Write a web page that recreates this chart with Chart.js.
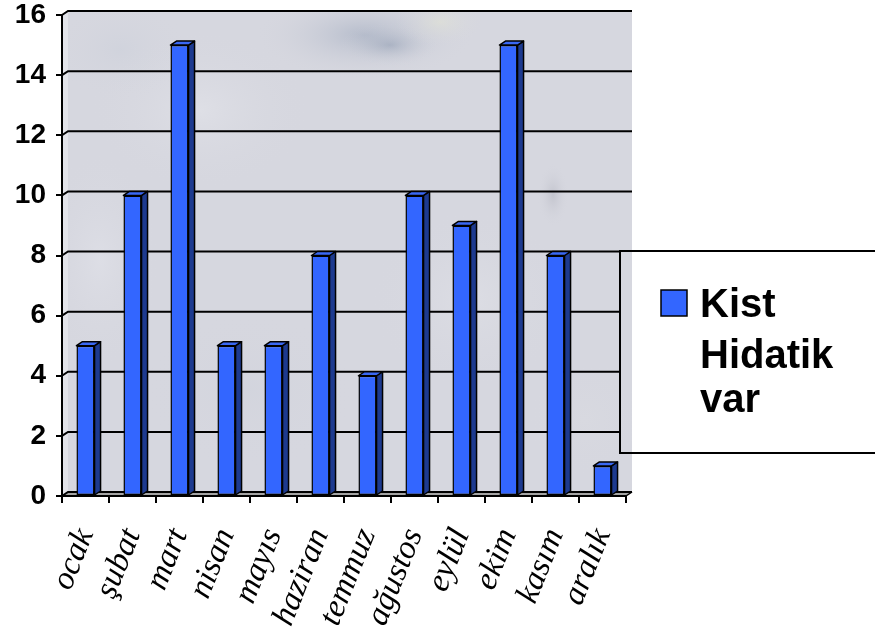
<!DOCTYPE html>
<html>
<head>
<meta charset="utf-8">
<script src="https://cdn.jsdelivr.net/npm/chart.js@4.4.1/dist/chart.umd.min.js"></script>
<style>
  html, body { margin: 0; padding: 0; background: #ffffff; }
  #wrap { width: 875px; height: 632px; }
</style>
</head>
<body>
<div id="wrap"><canvas id="c" width="875" height="632"></canvas></div>
<script>
// Monthly counts
const months = ['ocak', 'şubat', 'mart', 'nisan', 'mayıs', 'haziran', 'temmuz', 'ağustos', 'eylül', 'ekim', 'kasım', 'aralık'];
const kistHidatikVar = [5, 10, 15, 5, 5, 8, 4, 10, 9, 15, 8, 1];
const seriesName = 'Kist Hidatik var';
const legendLines = ['Kist', 'Hidatik', 'var'];
const yTicks = [0, 2, 4, 6, 8, 10, 12, 14, 16];

// depth of the pseudo-3D box
const DX = 6, DY = -4;
const LEGEND = { x: 620, y: 251, h: 202 };

const FRONT = '#3366ff', SIDE = '#1d3a8f', TOP = '#3a68f4';

const wallPlugin = {
  id: 'wall',
  beforeDraw(chart) {
    const ctx = chart.ctx, ca = chart.chartArea, ys = chart.scales.y;
    const L = ca.left, R = ca.right, T = ys.getPixelForValue(16), B = ys.getPixelForValue(0);
    ctx.save();
    ctx.fillStyle = '#ffffff';
    ctx.fillRect(0, 0, chart.width, chart.height);

    // back wall with a soft mottled finish
    ctx.save();
    ctx.beginPath();
    ctx.rect(L + DX, T + DY, R - L, B - T);
    ctx.clip();
    ctx.fillStyle = '#d6d7df';
    ctx.fillRect(L + DX, T + DY, R - L, B - T);
    const blobs = [
      [365, 35, 110, 45, 'rgba(140,154,178,0.45)'],
      [390, 45, 50, 22, 'rgba(120,136,162,0.35)'],
      [440, 22, 45, 25, 'rgba(228,230,212,0.5)'],
      [200, 110, 110, 80, 'rgba(232,233,238,0.45)'],
      [120, 50, 70, 50, 'rgba(198,204,216,0.35)'],
      [553, 195, 16, 32, 'rgba(160,162,174,0.35)'],
      [470, 300, 100, 90, 'rgba(226,227,233,0.5)'],
      [250, 390, 110, 80, 'rgba(206,209,219,0.4)'],
      [100, 260, 60, 110, 'rgba(228,229,236,0.5)'],
      [585, 420, 60, 60, 'rgba(218,219,225,0.5)']
    ];
    for (const [x, y, rx, ry, c] of blobs) {
      ctx.save();
      ctx.translate(x, y);
      ctx.scale(rx / 100, ry / 100);
      const g = ctx.createRadialGradient(0, 0, 0, 0, 0, 100);
      g.addColorStop(0, c);
      g.addColorStop(1, 'rgba(214,215,223,0)');
      ctx.fillStyle = g;
      ctx.fillRect(-100, -100, 200, 200);
      ctx.restore();
    }
    ctx.restore();

    // left side wall
    ctx.fillStyle = '#e3e4ea';
    ctx.beginPath();
    ctx.moveTo(L, T); ctx.lineTo(L + DX, T + DY); ctx.lineTo(L + DX, B + DY); ctx.lineTo(L, B);
    ctx.closePath(); ctx.fill();

    // floor
    ctx.fillStyle = '#a4a4a4';
    ctx.beginPath();
    ctx.moveTo(L, B); ctx.lineTo(L + DX, B + DY); ctx.lineTo(R + DX, B + DY); ctx.lineTo(R, B);
    ctx.closePath(); ctx.fill();

    // gridlines on the wall
    ctx.strokeStyle = '#000000';
    ctx.lineWidth = 2;
    for (const v of yTicks) {
      const yf = ys.getPixelForValue(v), yb = yf + DY;
      const inLegend = yb > LEGEND.y && yb < LEGEND.y + LEGEND.h;
      ctx.beginPath();
      ctx.moveTo(L, yf);
      ctx.lineTo(L + DX, yb);
      ctx.lineTo(inLegend ? LEGEND.x : R + DX, yb);
      ctx.stroke();
    }
    ctx.lineWidth = 1.5;
    ctx.beginPath();
    ctx.moveTo(R, B); ctx.lineTo(R + DX, B + DY);
    ctx.stroke();
    ctx.restore();
  },
  afterDatasetsDraw(chart) {
    const ctx = chart.ctx;
    const meta = chart.getDatasetMeta(0);
    ctx.save();
    ctx.strokeStyle = '#000000';
    ctx.lineWidth = 1.5;
    ctx.lineJoin = 'round';
    for (const bar of meta.data) {
      const p = bar.getProps(['x', 'y', 'base', 'width'], true);
      const l = p.x - p.width / 2, r = p.x + p.width / 2, t = p.y, b = p.base;
      ctx.fillStyle = SIDE;
      ctx.beginPath();
      ctx.moveTo(r, t); ctx.lineTo(r + DX, t + DY); ctx.lineTo(r + DX, b + DY); ctx.lineTo(r, b);
      ctx.closePath(); ctx.fill(); ctx.stroke();
      ctx.fillStyle = TOP;
      ctx.beginPath();
      ctx.moveTo(l, t); ctx.lineTo(l + DX, t + DY); ctx.lineTo(r + DX, t + DY); ctx.lineTo(r, t);
      ctx.closePath(); ctx.fill(); ctx.stroke();
    }
    ctx.restore();
  },
  afterDraw(chart) {
    const ctx = chart.ctx;
    ctx.save();
    // legend frame (open to the right edge)
    ctx.strokeStyle = '#000000';
    ctx.lineWidth = 2;
    ctx.beginPath();
    ctx.moveTo(chart.width + 5, LEGEND.y);
    ctx.lineTo(LEGEND.x, LEGEND.y);
    ctx.lineTo(LEGEND.x, LEGEND.y + LEGEND.h);
    ctx.lineTo(chart.width + 5, LEGEND.y + LEGEND.h);
    ctx.stroke();
    ctx.fillStyle = '#ffffff';
    ctx.fillRect(LEGEND.x + 13, LEGEND.y + 1, chart.width, LEGEND.h - 2);
    // swatch
    ctx.fillStyle = FRONT;
    ctx.fillRect(661, 290, 26, 26);
    ctx.lineWidth = 1.5;
    ctx.strokeRect(661, 290, 26, 26);
    // label
    ctx.fillStyle = '#000000';
    ctx.font = 'bold 40px "Liberation Sans", Arial, sans-serif';
    ctx.textBaseline = 'alphabetic';
    ctx.textAlign = 'left';
    const baselines = [317, 368, 412];
    legendLines.forEach((s, i) => ctx.fillText(s, 700, baselines[i]));
    ctx.restore();
  }
};

new Chart(document.getElementById('c'), {
  type: 'bar',
  data: {
    labels: months,
    datasets: [{
      label: seriesName,
      data: kistHidatikVar,
      backgroundColor: FRONT,
      borderColor: '#000000',
      borderWidth: 1.5,
      borderSkipped: false,
      categoryPercentage: 1,
      barPercentage: 0.385
    }]
  },
  options: {
    responsive: false,
    animation: false,
    events: [],
    layout: { padding: { top: 15, right: 249, left: 0, bottom: 0 } },
    plugins: { legend: { display: false }, tooltip: { enabled: false } },
    scales: {
      y: {
        min: 0, max: 16,
        afterFit(scale) { scale.width = 62; scale.paddingTop = 0; scale.paddingBottom = 0; },
        ticks: {
          stepSize: 2,
          padding: 10,
          color: '#000000',
          font: { family: '"Liberation Sans", Arial, sans-serif', size: 28, weight: 'bold' }
        },
        grid: { drawOnChartArea: false, drawTicks: true, tickLength: 6, color: '#000000', lineWidth: 2 },
        border: { display: true, color: '#000000', width: 2 }
      },
      x: {
        afterFit(scale) { scale.height = 136; scale.paddingLeft = 0; scale.paddingRight = 0; },
        ticks: {
          autoSkip: false,
          minRotation: 68,
          maxRotation: 68,
          padding: 20,
          color: '#000000',
          font: { family: '"Liberation Serif", serif', size: 33, style: 'italic' }
        },
        grid: { offset: true, drawOnChartArea: false, drawTicks: true, tickLength: 7, color: '#000000', lineWidth: 2 },
        border: { display: true, color: '#000000', width: 2 }
      }
    }
  },
  plugins: [wallPlugin]
});
</script>
</body>
</html>
